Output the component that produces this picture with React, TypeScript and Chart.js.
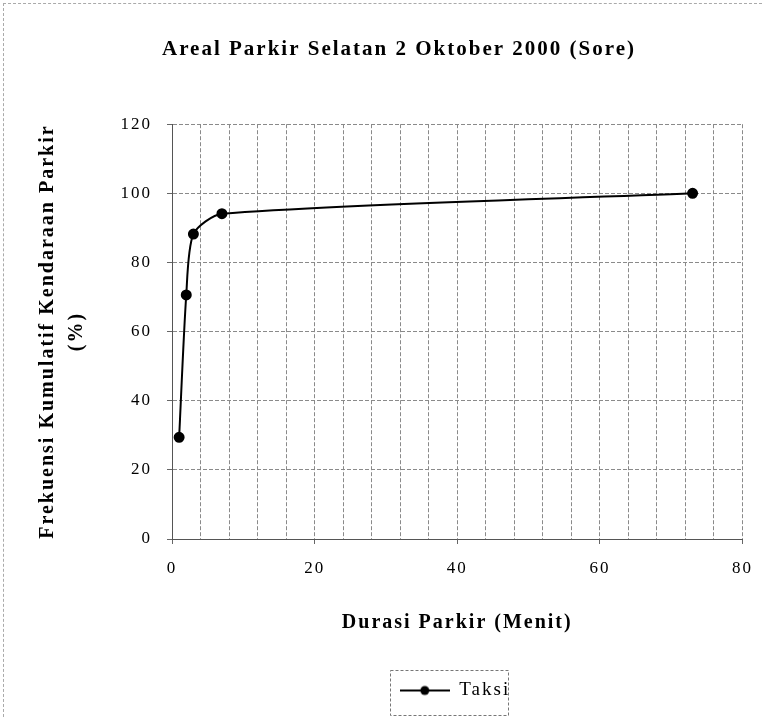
import React, { useEffect, useRef } from 'react';
import { Chart, registerables } from 'chart.js';

Chart.register(...registerables);

// ---- data ----
const durations = [1, 2, 3, 7, 73];
const cumulativePct = [29.4, 70.6, 88.2, 94.1, 100];
const seriesLabel = 'Taksi';
const chartTitle = 'Areal Parkir Selatan 2 Oktober 2000 (Sore)';
const xTitle = 'Durasi Parkir (Menit)';
const yTitle = ['Frekuensi Kumulatif Kendaraan Parkir', '(%)'];
const xRange = [0, 80];
const xGridStep = 4;
const xLabelStep = 20;
const yRange = [0, 120];
const yStep = 20;

const FONT = '"Liberation Serif", "Times New Roman", serif';

function makeLegendMarker(): HTMLCanvasElement {
  const c = document.createElement('canvas');
  c.width = 50;
  c.height = 12;
  const g = c.getContext('2d')!;
  g.strokeStyle = '#000';
  g.lineWidth = 2;
  g.beginPath();
  g.moveTo(0, 6);
  g.lineTo(50, 6);
  g.stroke();
  g.fillStyle = '#000';
  g.beginPath();
  g.arc(25, 6, 4.5, 0, Math.PI * 2);
  g.fill();
  return c;
}

const layoutPlugin = {
  id: 'excelLook',
  afterLayout(chart: any) {
    const t = chart.titleBlock;
    if (t) {
      t.left += 27;
      t.right += 27;
    }
    const lg = chart.legend;
    if (lg) {
      lg.left += 78;
      lg.right += 78;
    }
  },
  beforeDraw(chart: any) {
    (chart.ctx as any).letterSpacing = '2px';
  },
  afterDraw(chart: any) {
    const ctx = chart.ctx as any;
    ctx.letterSpacing = '0px';
    const lg = chart.legend;
    if (!lg || !lg.legendHitBoxes || !lg.legendHitBoxes.length) return;
    const hb = lg.legendHitBoxes[0];
    const cy = hb.top + hb.height / 2;
    ctx.save();
    ctx.strokeStyle = '#777';
    ctx.lineWidth = 1;
    ctx.setLineDash([3, 2]);
    ctx.strokeRect(Math.round(hb.left - 10) + 0.5, Math.round(cy - 21) + 0.5, Math.round(hb.width + 18), 45);
    ctx.restore();
  },
};

export default function App() {
  const ref = useRef<HTMLCanvasElement>(null);

  useEffect(() => {
    if (!ref.current) return;
    const marker = makeLegendMarker();
    const points = durations.map((d, i) => ({ x: d, y: cumulativePct[i] }));
    const chart = new Chart(ref.current, {
      type: 'line',
      data: {
        datasets: [
          {
            label: seriesLabel,
            data: points,
            borderColor: '#000',
            backgroundColor: '#000',
            borderWidth: 2,
            pointRadius: 4.5,
            pointBackgroundColor: '#000',
            pointBorderColor: '#000',
            tension: 0.25,
            fill: false,
          },
        ],
      },
      options: {
        animation: false,
        responsive: true,
        maintainAspectRatio: false,
        layout: { padding: { top: 0, left: 0, right: 21, bottom: 8 } },
        plugins: {
          title: {
            display: true,
            text: chartTitle,
            color: '#000',
            font: { family: FONT, size: 21, weight: 'bold', lineHeight: 1.2 },
            padding: { top: 37, bottom: 62 },
          },
          legend: {
            display: true,
            position: 'bottom',
            labels: {
              color: '#000',
              font: { family: FONT, size: 19 },
              usePointStyle: true,
              pointStyleWidth: 50,
              boxWidth: 50,
              padding: 10,
              generateLabels: () => [
                {
                  text: seriesLabel,
                  pointStyle: marker as any,
                  fillStyle: '#000',
                  strokeStyle: '#000',
                  lineWidth: 0,
                  hidden: false,
                  datasetIndex: 0,
                } as any,
              ],
            },
          },
          tooltip: { enabled: false },
        },
        scales: {
          x: {
            type: 'linear',
            min: xRange[0],
            max: xRange[1],
            afterFit: (s: any) => {
              s.height = 132;
            },
            ticks: {
              stepSize: xGridStep,
              autoSkip: false,
              maxRotation: 0,
              color: '#000',
              padding: 14,
              font: { family: FONT, size: 17 },
              callback: (v: any) => (Number(v) % xLabelStep === 0 ? String(v) : ''),
            },
            grid: {
              color: '#8a8a8a',
              lineWidth: 1,
              tickLength: 5,
              tickColor: (c: any) => (c.tick && c.tick.value % xLabelStep === 0 ? '#666' : 'rgba(0,0,0,0)'),
            },
            border: { display: true, color: '#555', dash: [4, 2] },
            title: {
              display: true,
              text: xTitle,
              color: '#000',
              font: { family: FONT, size: 20, weight: 'bold', lineHeight: 1.2 },
              padding: { top: 0, bottom: 36 },
            },
          },
          y: {
            type: 'linear',
            min: yRange[0],
            max: yRange[1],
            afterFit: (s: any) => {
              s.width = 172;
            },
            ticks: {
              stepSize: yStep,
              color: '#000',
              padding: 15,
              font: { family: FONT, size: 17 },
            },
            grid: {
              color: '#8a8a8a',
              lineWidth: 1,
              tickLength: 5,
              tickColor: '#666',
            },
            border: { display: true, color: '#555', dash: [4, 2] },
            title: {
              display: true,
              text: yTitle,
              color: '#000',
              font: { family: FONT, size: 20, weight: 'bold', lineHeight: 1.45 },
              padding: { top: 33.5, bottom: 0 },
            },
          },
        },
      },
      plugins: [layoutPlugin],
    });
    return () => chart.destroy();
  }, []);

  return (
    <div style={{ position: 'absolute', left: 0, top: 0, width: 765, height: 718, background: '#fff' }}>
      <div
        style={{
          position: 'absolute',
          left: 3,
          top: 3,
          width: 759,
          height: 714,
          borderLeft: '1px dashed #aaa',
          borderTop: '1px dashed #aaa',
          boxSizing: 'border-box',
        }}
      />
      <canvas ref={ref} style={{ position: 'absolute', left: 0, top: 0, width: 765, height: 718 }} />
    </div>
  );
}
